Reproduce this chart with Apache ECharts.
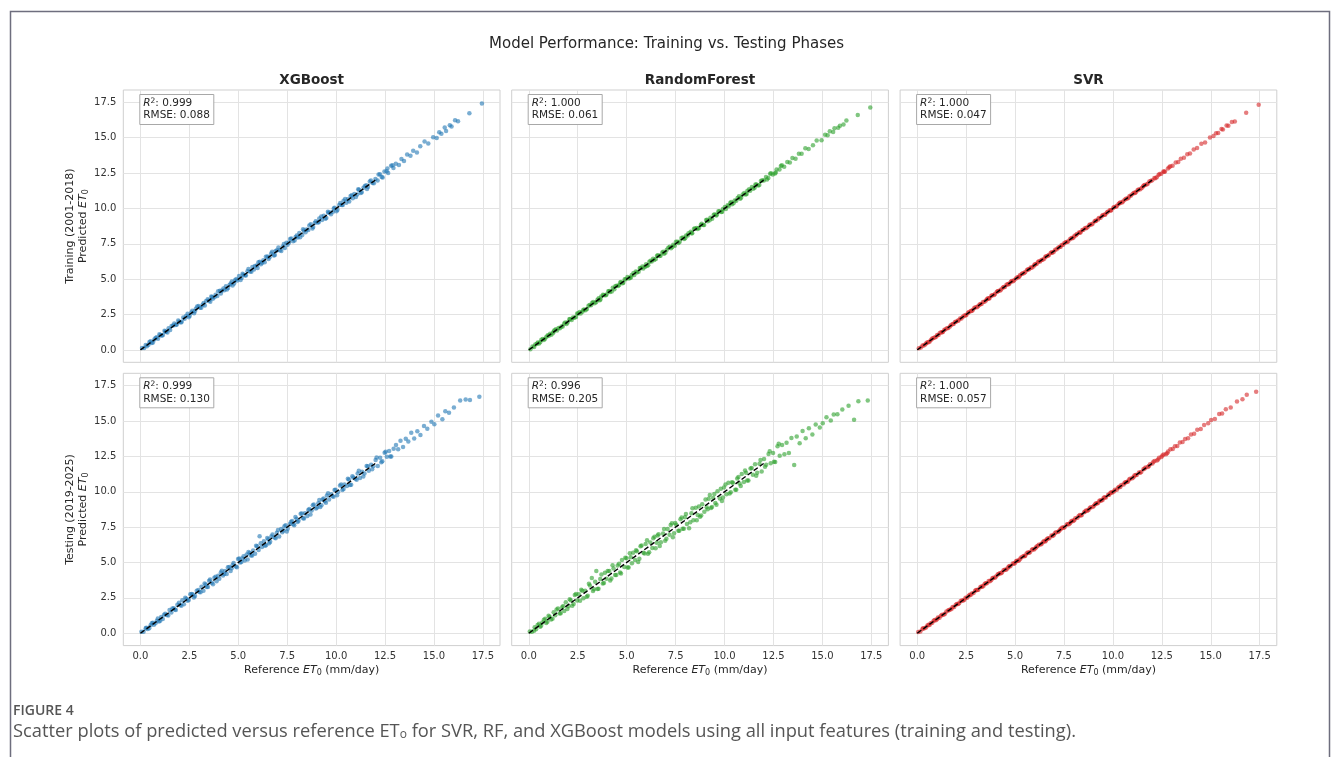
<!DOCTYPE html>
<html>
<head>
<meta charset="utf-8">
<title>Model Performance: Training vs. Testing Phases</title>
<script src="https://cdn.jsdelivr.net/npm/echarts@6.0.0/dist/echarts.min.js"></script>
<style>
  html, body { margin: 0; padding: 0; background: #ffffff; }
  #chart { width: 1333px; height: 757px; }
</style>
</head>
<body>
<div id="chart"></div>
<script>
// Reference ET0 (mm/day), training period (2001-2018), shared by all three models
const trainRef = [
  0.08,0.19,0.27,0.41,0.46,0.58,0.71,0.77,0.90,1.02,
  1.09,1.23,1.31,1.44,1.52,1.67,1.73,1.86,1.98,2.07,
  2.19,2.26,2.41,2.52,2.60,2.74,2.83,2.97,3.05,3.18,
  3.29,3.36,3.51,3.62,3.70,3.84,3.93,4.06,4.15,4.29,
  4.37,4.48,4.62,4.71,4.83,4.95,5.04,5.17,5.26,5.39,
  5.47,5.61,5.72,5.80,5.94,6.03,6.16,6.28,6.35,6.49,
  6.60,6.68,6.82,6.91,7.05,7.13,7.27,7.38,7.46,7.59,
  7.71,7.80,7.93,8.04,8.12,8.27,8.35,8.49,8.58,8.70,
  8.83,8.91,9.06,9.14,9.28,9.37,9.50,9.61,9.69,9.84,
  9.92,10.07,10.16,10.29,10.38,10.52,10.60,10.74,10.85,10.93,
  11.08,11.17,11.31,11.40,11.54,11.63,11.78,11.86,12.01,12.12,
  12.24,12.33,12.47,12.58,12.66,12.81,12.93,13.05,13.21,13.34,
  13.47,13.63,13.80,13.94,14.13,14.30,14.52,14.71,14.96,15.14,
  15.27,15.38,15.55,15.62,15.81,15.90,16.08,16.23,16.81,17.45,
  0.33,0.52,0.64,0.83,0.97,1.15,1.27,1.38,1.59,1.81,
  1.93,2.11,2.33,2.47,2.65,2.78,2.90,3.11,3.23,3.44,
  3.57,3.66,3.79,3.97,4.11,4.24,4.42,4.56,4.67,4.79,
  4.90,5.12,5.22,5.35,5.52,5.67,5.85,5.99,6.10,6.22,
  6.41,6.55,6.73,6.87,6.98,7.20,7.33,7.52,7.65,7.88,
  7.99,8.16,8.31,8.44,8.63,8.79,8.96,9.11,9.24,9.45,
  9.58,9.74,9.88,10.02,10.21,10.34,10.46,10.67,10.80,11.01,
  11.13,11.26,11.47,11.58,11.72,11.93,12.17,12.38,12.62,12.88
];

// Predicted ET0, training period
const xgbTrain = [
  0.13,0.13,0.35,0.37,0.56,0.49,0.74,0.84,0.79,1.06,
  1.01,1.35,1.28,1.53,1.40,1.72,1.87,1.79,2.00,1.94,
  2.30,2.21,2.56,2.42,2.64,2.60,2.91,3.10,2.99,3.19,
  3.14,3.46,3.49,3.78,3.61,3.90,3.81,4.18,4.18,4.22,
  4.51,4.37,4.69,4.55,4.93,4.91,5.22,5.08,5.31,5.26,
  5.56,5.54,5.87,5.68,5.96,6.20,6.06,6.34,6.20,6.60,
  6.55,6.81,6.68,6.99,7.24,7.05,7.31,7.21,7.58,7.57,
  7.87,7.68,7.99,7.95,8.26,8.12,8.45,8.51,8.47,8.88,
  8.69,8.98,9.01,9.29,9.18,9.49,9.32,9.70,9.72,9.76,
  10.05,9.91,10.24,10.25,10.55,10.41,10.65,10.88,10.72,11.02,
  10.99,11.32,11.14,11.46,11.65,11.51,11.97,11.80,12.09,11.97,
  12.42,12.23,12.61,12.63,12.50,13.02,12.86,13.17,13.08,13.50,
  13.36,13.82,13.72,14.08,13.95,14.40,14.74,14.59,15.03,14.99,
  15.39,15.29,15.72,15.48,15.89,15.80,16.23,16.17,16.74,17.42,
  0.26,0.62,0.52,0.89,1.10,1.06,1.31,1.24,1.70,1.76,
  2.08,2.00,2.40,2.31,2.77,2.74,3.07,2.98,3.31,3.58,
  3.40,3.75,3.73,4.15,3.98,4.35,4.27,4.61,4.83,4.69,
  5.02,4.94,5.38,5.28,5.72,5.53,5.94,5.80,6.23,6.16,
  6.59,6.42,6.94,6.71,7.05,7.00,7.48,7.43,7.84,7.74,
  8.09,7.97,8.53,8.32,8.79,8.58,9.09,9.03,9.44,9.28,
  9.77,9.59,9.99,9.80,10.38,10.25,10.67,10.49,10.94,10.81,
  11.36,11.10,11.59,11.37,11.90,11.79,12.41,12.19,12.83,13.05
];
const rfTrain = [
  0.05,0.24,0.21,0.43,0.53,0.54,0.77,0.70,0.93,1.00,
  1.15,1.18,1.39,1.37,1.55,1.65,1.65,1.93,1.94,2.16,
  2.12,2.30,2.32,2.58,2.68,2.69,2.85,2.89,3.12,3.15,
  3.38,3.30,3.55,3.52,3.77,3.86,3.86,4.14,4.10,4.39,
  4.29,4.54,4.59,4.80,4.74,5.00,5.15,5.11,5.29,5.29,
  5.54,5.52,5.77,5.90,5.88,5.93,6.24,6.25,6.44,6.42,
  6.70,6.64,6.89,6.80,7.09,7.22,7.19,7.44,7.36,7.64,
  7.65,7.91,7.84,8.09,8.09,8.35,8.24,8.59,8.62,8.62,
  8.92,8.84,9.18,9.09,9.34,9.27,9.58,9.57,9.80,9.75,
  9.97,9.96,10.23,10.39,10.30,10.56,10.54,10.86,10.76,10.99,
  10.98,11.25,11.26,11.51,11.47,11.69,11.66,11.95,11.97,12.22,
  12.16,12.45,12.41,12.47,12.75,12.76,13.06,12.95,13.28,13.25,
  13.57,13.51,13.86,13.86,14.25,14.20,14.47,14.80,14.83,15.21,
  15.18,15.46,15.41,15.67,15.70,15.84,15.93,16.21,16.60,17.13,
  0.38,0.46,0.72,0.79,1.04,1.07,1.30,1.47,1.53,1.86,
  1.84,2.18,2.28,2.57,2.57,2.82,2.80,3.17,3.32,3.37,
  3.65,3.57,3.90,3.91,4.16,4.13,4.51,4.52,4.77,4.71,
  5.00,5.05,5.12,5.43,5.47,5.79,5.76,6.05,5.98,6.31,
  6.35,6.66,6.65,6.94,6.87,7.29,7.28,7.64,7.56,7.94,
  7.89,8.24,8.25,8.56,8.54,8.84,8.84,9.21,9.17,9.56,
  9.50,9.80,9.77,10.11,10.16,10.46,10.37,10.74,10.68,11.09,
  11.02,11.36,11.40,11.70,11.62,11.99,12.04,12.49,12.54,13.00
];
const svrTrain = [
  0.11,0.17,0.31,0.38,0.48,0.54,0.72,0.80,0.88,1.06,
  1.06,1.25,1.27,1.47,1.53,1.65,1.77,1.83,2.00,2.06,
  2.23,2.23,2.43,2.48,2.63,2.75,2.81,3.01,3.02,3.20,
  3.25,3.39,3.50,3.66,3.67,3.86,3.89,4.09,4.16,4.27,
  4.40,4.44,4.64,4.69,4.87,4.92,5.05,5.13,5.29,5.41,
  5.44,5.65,5.70,5.83,5.90,6.05,6.20,6.25,6.36,6.45,
  6.62,6.65,6.86,6.87,7.08,7.11,7.28,7.42,7.43,7.62,
  7.67,7.82,7.90,8.08,8.10,8.30,8.31,8.50,8.62,8.67,
  8.86,8.87,9.08,9.13,9.32,9.34,9.53,9.57,9.71,9.88,
  9.90,10.10,10.12,10.31,10.42,10.49,10.61,10.70,10.88,10.91,
  11.12,11.15,11.34,11.36,11.56,11.66,11.75,11.90,11.99,12.15,
  12.21,12.37,12.45,12.61,12.62,12.83,12.98,13.02,13.25,13.29,
  13.52,13.59,13.83,13.89,14.17,14.27,14.58,14.67,15.01,15.12,
  15.31,15.33,15.61,15.59,15.86,15.84,16.12,16.15,16.76,17.33,
  0.31,0.55,0.60,0.85,0.94,1.19,1.25,1.41,1.55,1.83,
  1.97,2.08,2.35,2.43,2.68,2.76,2.94,3.08,3.25,3.40,
  3.60,3.62,3.83,3.95,4.14,4.20,4.44,4.60,4.64,4.82,
  4.86,5.14,5.19,5.39,5.50,5.70,5.81,6.02,6.07,6.26,
  6.38,6.59,6.71,6.90,6.94,7.22,7.30,7.56,7.63,7.91,
  7.95,8.19,8.29,8.48,8.60,8.81,8.92,9.14,9.22,9.49,
  9.55,9.76,9.84,10.05,10.19,10.38,10.43,10.69,10.76,11.04,
  11.09,11.29,11.45,11.62,11.69,11.95,12.13,12.43,12.59,12.92
];

// Reference ET0 (mm/day), testing period (2019-2025)
const testRef = [
  0.05,0.16,0.30,0.37,0.52,0.63,0.69,0.84,0.95,1.06,
  1.14,1.27,1.35,1.49,1.58,1.70,1.81,1.89,2.03,2.14,
  2.22,2.35,2.47,2.55,2.68,2.79,2.88,3.01,3.12,3.22,
  3.33,3.45,3.56,3.65,3.78,3.89,3.97,4.11,4.22,4.33,
  4.41,4.54,4.66,4.76,4.88,4.99,5.10,5.21,5.33,5.43,
  5.52,5.65,5.76,5.86,5.97,6.09,6.21,6.31,6.42,6.54,
  6.63,6.75,6.86,6.97,7.09,7.19,7.31,7.42,7.53,7.64,
  7.75,7.86,7.98,8.08,8.19,8.31,8.41,8.53,8.63,8.75,
  8.86,8.97,9.09,9.19,9.31,9.42,9.53,9.64,9.76,9.87,
  9.97,10.10,10.20,10.32,10.43,10.55,10.65,10.77,10.88,10.99,
  11.10,11.22,11.33,11.45,11.56,11.67,11.79,11.90,12.02,12.13,
  12.25,12.36,12.48,12.59,12.71,12.82,12.94,13.06,13.17,13.29,
  13.42,13.56,13.69,13.84,13.99,14.15,14.31,14.49,14.66,14.87,
  15.02,15.21,15.43,15.58,15.77,16.02,16.34,16.62,16.84,17.32,
  0.27,0.45,0.58,0.77,0.89,1.01,1.21,1.42,1.63,1.76,
  1.97,2.09,2.29,2.41,2.62,2.73,2.96,3.07,3.28,3.39,
  3.51,3.71,3.84,4.03,4.16,4.28,4.47,4.61,4.71,4.93,
  5.05,5.16,5.27,5.48,5.59,5.71,5.91,6.04,6.15,6.36,
  6.48,6.58,6.69,6.91,7.03,7.25,7.36,7.48,7.69,7.81,
  7.92,8.03,8.25,8.36,8.58,8.69,8.81,9.03,9.14,9.25,
  9.36,9.48,9.59,9.81,9.92,10.05,10.26,10.38,10.60,10.71,
  10.83,11.05,11.16,11.39,11.62,11.84,12.07,12.31,12.53,12.77
];

// Predicted ET0, testing period
const xgbTest = [
  0.11,0.11,0.39,0.30,0.56,0.74,0.60,0.89,0.83,1.14,
  1.00,1.37,1.29,1.65,1.47,1.77,1.64,2.01,2.00,2.33,
  2.04,2.43,2.34,2.76,2.73,2.63,3.01,2.92,3.29,3.00,
  3.45,3.26,3.80,3.57,3.93,3.68,4.06,4.29,4.08,4.39,
  4.18,4.68,4.59,4.96,4.72,5.24,5.00,5.29,5.14,5.56,
  5.74,5.50,5.85,5.62,6.14,6.85,6.09,6.50,6.22,6.65,
  6.46,6.98,6.77,7.11,6.83,7.37,7.26,7.63,7.38,7.72,
  7.94,7.64,8.10,7.95,8.45,8.13,8.48,8.28,8.79,8.67,
  9.10,8.81,9.19,8.92,9.45,9.33,9.74,9.45,9.82,9.64,
  10.14,9.99,10.45,10.12,10.52,10.41,10.87,10.49,11.01,10.92,
  11.30,10.98,11.41,11.30,11.83,11.48,11.91,11.80,12.25,11.83,
  12.40,12.15,12.76,12.47,12.89,12.50,13.04,13.30,13.00,13.60,
  13.16,13.75,13.55,14.17,13.77,14.27,14.02,14.65,14.46,14.95,
  14.78,15.39,15.13,15.69,15.58,15.95,16.46,16.52,16.49,16.72,
  0.35,0.35,0.71,0.70,1.04,0.89,1.30,1.26,1.75,1.68,
  2.15,1.95,2.50,2.30,2.78,2.53,3.06,2.90,3.51,3.26,
  3.71,3.47,3.99,3.85,4.42,4.19,4.66,4.39,4.83,4.66,
  5.29,5.03,5.45,5.22,5.68,5.50,6.19,5.89,6.36,6.18,
  6.74,6.36,6.83,6.72,7.30,7.13,7.56,7.20,7.86,7.71,
  8.21,7.86,8.47,8.11,8.71,8.39,9.05,8.89,9.42,9.04,
  9.52,9.22,9.89,9.68,10.13,9.76,10.51,10.20,10.92,10.47,
  11.10,10.85,11.49,11.08,11.81,11.59,12.42,12.09,12.83,12.49
];
const rfTest = [
  0.13,0.10,0.42,0.28,0.67,0.52,0.76,1.02,0.81,1.16,
  0.97,1.49,1.27,1.74,1.39,1.83,1.57,2.19,1.91,2.33,
  1.94,2.70,2.32,2.76,3.08,2.48,3.00,2.65,3.38,3.90,
  3.11,4.40,3.15,3.83,3.51,4.27,3.85,4.40,3.87,4.58,
  4.11,4.78,4.29,5.18,4.68,5.30,4.65,5.37,5.69,5.17,
  5.80,5.26,6.21,5.69,6.30,5.61,6.42,6.02,6.82,6.40,
  6.99,6.44,7.05,6.53,7.36,6.97,7.78,7.06,7.66,7.24,
  8.05,7.39,8.20,7.73,7.42,8.49,7.99,8.87,8.35,8.24,
  9.11,8.59,8.90,9.50,8.85,9.56,9.20,10.04,9.52,9.35,
  10.30,9.83,10.64,9.96,10.63,10.14,10.93,10.58,11.25,10.69,
  11.34,10.80,11.64,11.20,11.94,11.34,11.98,11.43,12.31,11.91,
  12.67,12.01,12.74,12.11,13.22,12.54,13.30,12.66,13.47,12.74,
  13.80,11.90,13.91,13.43,14.29,13.78,14.49,14.05,14.76,14.55,
  14.84,15.26,15.03,15.46,15.48,15.81,16.08,15.10,16.40,16.45,
  0.17,0.59,0.45,0.96,0.73,1.23,1.03,1.67,1.42,1.93,
  1.71,2.40,2.07,2.78,2.29,3.01,2.57,3.49,2.98,3.63,
  3.13,4.16,3.55,4.39,3.72,4.80,4.12,4.91,4.23,5.34,
  4.65,5.65,4.95,5.86,5.04,6.15,5.63,6.57,5.72,6.71,
  6.01,6.91,6.17,7.37,6.67,7.65,6.78,7.79,7.24,8.18,
  7.38,8.42,7.84,8.84,7.98,8.96,8.32,9.46,8.77,9.77,
  8.92,9.84,9.09,10.22,9.59,10.52,9.87,10.68,10.14,11.05,
  10.41,11.50,10.79,11.68,11.14,12.24,11.76,12.87,12.13,13.39
];
const svrTest = [
  0.09,0.13,0.35,0.35,0.55,0.58,0.71,0.88,0.92,1.11,
  1.10,1.30,1.30,1.53,1.60,1.67,1.86,1.85,2.06,2.12,
  2.27,2.31,2.50,2.50,2.72,2.81,2.85,3.06,3.08,3.25,
  3.28,3.49,3.54,3.70,3.74,3.92,3.92,4.15,4.24,4.30,
  4.45,4.49,4.69,4.73,4.93,4.95,5.12,5.16,5.37,5.46,
  5.48,5.70,5.73,5.90,5.92,6.12,6.26,6.27,6.44,6.49,
  6.66,6.71,6.91,6.92,7.13,7.16,7.33,7.47,7.49,7.68,
  7.70,7.89,7.94,8.13,8.16,8.35,8.36,8.55,8.68,8.71,
  8.90,8.92,9.12,9.17,9.36,9.38,9.57,9.59,9.79,9.92,
  9.94,10.14,10.15,10.35,10.48,10.51,10.67,10.72,10.92,10.96,
  11.15,11.19,11.37,11.40,11.59,11.71,11.75,11.95,11.99,12.17,
  12.21,12.41,12.45,12.63,12.66,12.85,13.00,13.02,13.22,13.23,
  13.48,13.51,13.73,13.78,14.04,14.11,14.38,14.44,14.72,14.84,
  15.07,15.15,15.50,15.54,15.83,15.95,16.39,16.54,16.86,17.07,
  0.30,0.41,0.60,0.74,0.93,0.99,1.24,1.38,1.65,1.73,
  2.01,2.07,2.32,2.37,2.64,2.70,3.00,3.05,3.31,3.35,
  3.53,3.68,3.88,4.01,4.19,4.24,4.49,4.58,4.75,4.91,
  5.08,5.12,5.29,5.45,5.63,5.69,5.94,6.00,6.17,6.33,
  6.52,6.55,6.71,6.87,7.06,7.23,7.40,7.45,7.71,7.77,
  7.95,8.01,8.29,8.33,8.60,8.65,8.84,9.01,9.18,9.22,
  9.38,9.44,9.62,9.79,9.96,10.02,10.28,10.34,10.63,10.69,
  10.87,11.02,11.18,11.35,11.65,11.82,12.12,12.28,12.57,12.72
];

const modelNames = ['XGBoost', 'RandomForest', 'SVR'];
const phaseLabels = ['Training (2001-2018)', 'Testing (2019-2025)'];
const r2Labels = [['0.999', '1.000', '1.000'], ['0.999', '0.996', '1.000']];
const rmseLabels = [['0.088', '0.061', '0.047'], ['0.130', '0.205', '0.057']];
const tickValues = [0, 2.5, 5, 7.5, 10, 12.5, 15, 17.5];
const identityRange = [0, 12];

const refByRow = [trainRef, testRef];
const predByPanel = [[xgbTrain, rfTrain, svrTrain], [xgbTest, rfTest, svrTest]];
const modelColors = ['#1f77b4', '#2ca02c', '#d62728'];

// panel layout (pixels)
const colLeft = [123.3, 511.7, 900.1];
const rowTop = [90, 373.3];
const panelW = 376.7;
const panelH = 272.3;
const axisMin = -0.875, axisMax = 18.375;

const baseFont = 'DejaVu Sans';
const tickColor = '#333333';

const grids = [], xAxes = [], yAxes = [], series = [], titles = [];

titles.push({
  text: 'Model Performance: Training vs. Testing Phases',
  left: 'center', top: 37, padding: 0,
  textStyle: { fontFamily: baseFont, fontSize: 15, fontWeight: 'normal', color: '#262626' }
});
modelNames.forEach((name, c) => {
  titles.push({
    text: name, padding: 0,
    left: colLeft[c] + panelW / 2, top: 73, textAlign: 'center',
    textStyle: { fontFamily: baseFont, fontSize: 13.5, fontWeight: 'bold', color: '#262626' }
  });
});

for (let r = 0; r < 2; r++) {
  for (let c = 0; c < 3; c++) {
    const i = r * 3 + c;
    grids.push({
      left: colLeft[c], top: rowTop[r], width: panelW, height: panelH,
      show: true, borderColor: '#cfcfcf', borderWidth: 1, backgroundColor: '#ffffff'
    });
    const isBottom = r === 1;
    const isLeft = c === 0;
    xAxes.push({
      type: 'value', gridIndex: i, min: axisMin, max: axisMax,
      axisLine: { show: false },
      axisTick: { show: false, customValues: tickValues },
      axisLabel: {
        show: isBottom, customValues: tickValues, margin: 6,
        fontFamily: baseFont, fontSize: 10, color: tickColor,
        formatter: v => v.toFixed(1)
      },
      splitLine: { show: true, lineStyle: { color: '#e3e3e3', width: 1 } },
      name: isBottom ? 'Reference {it|ET}{sub|0} (mm/day)' : '',
      nameLocation: 'middle', nameGap: 19,
      nameTextStyle: {
        fontFamily: baseFont, fontSize: 11, color: '#262626',
        rich: {
          it: { fontFamily: baseFont, fontSize: 11, fontStyle: 'italic', color: '#262626' },
          sub: { fontFamily: baseFont, fontSize: 8, color: '#262626', verticalAlign: 'bottom', padding: [4, 0, 0, 0] }
        }
      }
    });
    yAxes.push({
      type: 'value', gridIndex: i, min: axisMin, max: axisMax,
      axisLine: { show: false },
      axisTick: { show: false, customValues: tickValues },
      axisLabel: {
        show: isLeft, customValues: tickValues, margin: 7,
        fontFamily: baseFont, fontSize: 10, color: tickColor,
        formatter: v => v.toFixed(1)
      },
      splitLine: { show: true, lineStyle: { color: '#e3e3e3', width: 1 } }
    });

    const ref = refByRow[r];
    const pred = predByPanel[r][c];
    series.push({
      type: 'scatter', xAxisIndex: i, yAxisIndex: i,
      data: ref.map((x, k) => [x, pred[k]]),
      symbolSize: 4.5,
      itemStyle: { color: modelColors[c], opacity: 0.6 },
      silent: true, z: 2
    });
    series.push({
      type: 'line', xAxisIndex: i, yAxisIndex: i,
      data: identityRange.map(v => [v, v]),
      showSymbol: false, silent: true, z: 3,
      lineStyle: { color: '#000000', width: 1.4, type: [5, 2.5] }
    });

    titles.push({
      text: '{it|R}{sup|2}: ' + r2Labels[r][c] + '\nRMSE: ' + rmseLabels[r][c],
      left: colLeft[c] + 16, top: rowTop[r] + 4,
      padding: [3, 4, 3, 4],
      backgroundColor: '#ffffff', borderColor: '#a8a8a8', borderWidth: 1,
      textStyle: {
        fontFamily: baseFont, fontSize: 10.5, fontWeight: 'normal', color: '#262626', lineHeight: 12.5,
        rich: {
          it: { fontFamily: baseFont, fontSize: 10.5, fontStyle: 'italic', color: '#262626', lineHeight: 12.5 },
          sup: { fontFamily: baseFont, fontSize: 7.5, color: '#262626', verticalAlign: 'top', lineHeight: 12.5 }
        }
      }
    });
  }
}

const graphics = [
  {
    type: 'rect', silent: true,
    shape: { x: 10.5, y: 11.5, width: 1319, height: 800 },
    style: { fill: 'none', stroke: '#6e6e7e', lineWidth: 1.5 }
  }
];
phaseLabels.forEach((label, r) => {
  graphics.push({
    type: 'text', silent: true,
    x: 77, y: rowTop[r] + panelH / 2, rotation: Math.PI / 2,
    style: {
      text: label + '\n{n|Predicted }{it|ET}{sub|0}',
      fontFamily: baseFont, fontSize: 11, fill: '#262626',
      align: 'center', verticalAlign: 'middle', lineHeight: 13,
      rich: {
        n: { fontFamily: baseFont, fontSize: 11, fill: '#262626' },
        it: { fontFamily: baseFont, fontSize: 11, fontStyle: 'italic', fill: '#262626' },
        sub: { fontFamily: baseFont, fontSize: 8, fill: '#262626', verticalAlign: 'bottom', padding: [4, 0, 0, 0] }
      }
    }
  });
});
graphics.push({
  type: 'text', silent: true, x: 13, y: 711,
  style: {
    text: 'FIGURE 4', fontFamily: 'Open Sans', fontSize: 14, fontWeight: 600,
    fill: '#555555', verticalAlign: 'middle'
  }
});
graphics.push({
  type: 'text', silent: true, x: 13, y: 732,
  style: {
    text: 'Scatter plots of predicted versus reference ET{sub|o} for SVR, RF, and XGBoost models using all input features (training and testing).',
    fontFamily: 'Open Sans', fontSize: 18.3, fill: '#555555', verticalAlign: 'middle',
    rich: {
      sub: { fontFamily: 'Open Sans', fontSize: 12, fill: '#555555', verticalAlign: 'bottom', padding: [6, 0, 0, 0] }
    }
  }
});

const chart = echarts.init(document.getElementById('chart'), null, { renderer: 'canvas' });
chart.setOption({
  backgroundColor: '#ffffff',
  animation: false,
  title: titles,
  grid: grids,
  xAxis: xAxes,
  yAxis: yAxes,
  series: series,
  graphic: graphics
});
</script>
</body>
</html>
